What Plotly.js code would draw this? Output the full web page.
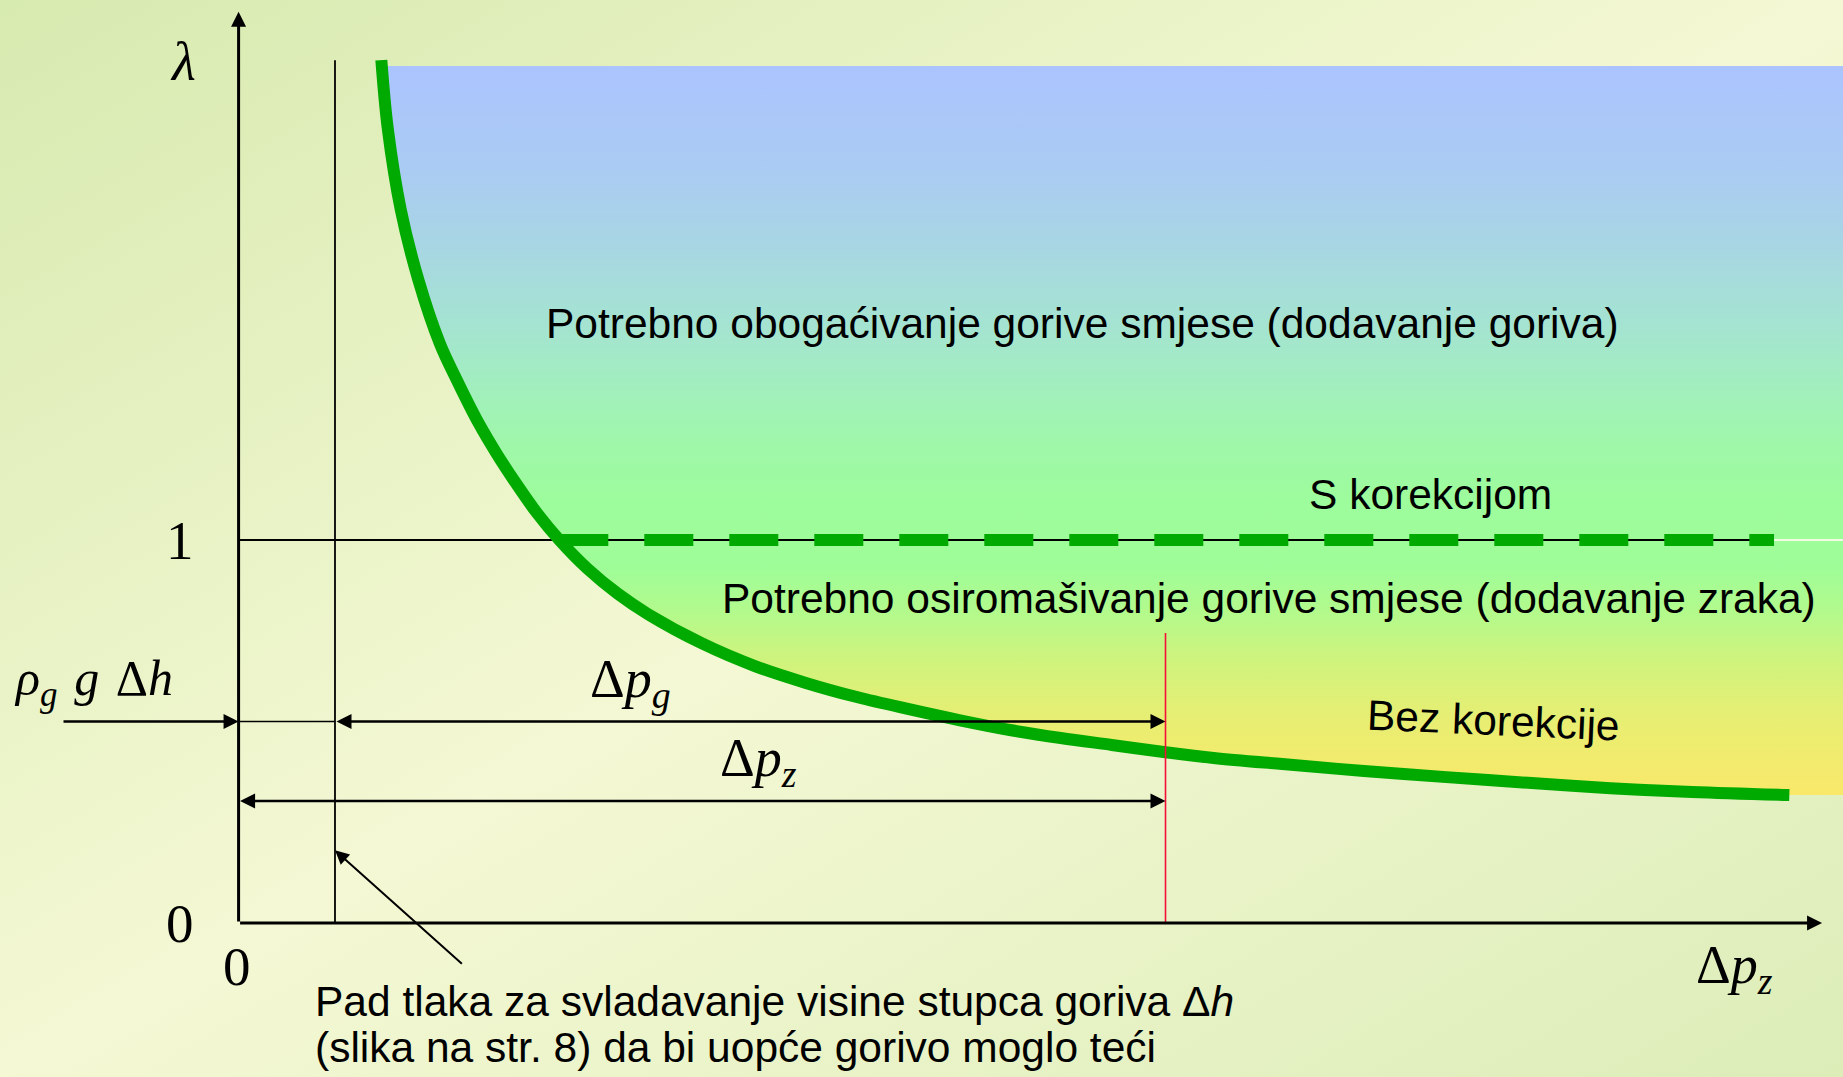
<!DOCTYPE html>
<html>
<head>
<meta charset="utf-8">
<script src="https://cdn.plot.ly/plotly-3.0.1.min.js"></script>
<style>
  html, body { margin: 0; padding: 0; width: 1843px; height: 1077px; overflow: hidden;
    background: linear-gradient(to bottom right, #d7eaaf 0%, #f4f8d4 50%, #dcedb8 100%); }
  #chart { width: 1843px; height: 1077px; }
</style>
</head>
<body>
<div id="chart"></div>
<script>
// Δp_z along the uncorrected mixture curve ("Bez korekcije") and the matching λ
const dpz = [1.54, 1.61, 1.75, 1.94, 2.17, 2.36, 2.59, 2.78, 2.99, 3.22, 3.46, 3.76, 4.09, 4.42,
             5.00, 5.57, 6.12, 6.67, 7.22, 7.77, 8.32, 8.87, 9.42, 10.00, 10.52, 11.26, 12.14,
             13.03, 13.91, 14.80, 15.68, 16.73];
const lambdaBez = [2.253, 2.073, 1.862, 1.679, 1.514, 1.415, 1.305, 1.227, 1.149, 1.070, 1.000,
                   0.926, 0.860, 0.806, 0.730, 0.671, 0.627, 0.590, 0.559, 0.530, 0.504, 0.483,
                   0.465, 0.446, 0.431, 0.415, 0.397, 0.381, 0.366, 0.352, 0.342, 0.334];

// corrected mixture: λ held at 1 ("S korekcijom")
const lambdaKor = 1;
const dpzKor = [3.46, 16.565];

// pressure drop for the fuel column ρ_g g Δh and the marked working point Δp_z
const dpHidro = 1.04;
const dpzMark = 10;

// axis tick labels
const yTicks = [{ v: 0, t: '0' }, { v: 1, t: '1' }];
const xTicks = [{ v: 0, t: '0' }];

// region texts
const txtBogatiti = 'Potrebno obogaćivanje gorive smjese (dodavanje goriva)';
const txtSiromasiti = 'Potrebno osiromašivanje gorive smjese (dodavanje zraka)';
const txtKor = 'S korekcijom';
const txtBez = 'Bez korekcije';
const txtPad1 = 'Pad tlaka za svladavanje visine stupca goriva Δ<i>h</i>';
const txtPad2 = '(slika na str. 8) da bi uopće gorivo moglo teći';

// ---- view ----
const xRange = [-2.574, 17.309];
const yRange = [-0.402, 2.410];
const xAxisEnd = 17.083, yAxisEnd = 2.379;
const fillTop = 2.238, xEdge = 17.5;
const fillBottom = lambdaBez[lambdaBez.length - 1];

const SANS = 'Liberation Sans, Arial, sans-serif';
const SERIF = 'Liberation Serif, Times New Roman, serif';
const GREEN = '#00aa00';
const SP = '\u2004';

// vertical colour stops of the shaded region, keyed by λ
const fillStops = [
  [0.339, '#f9e86a'], [0.496, '#eced70'], [0.601, '#def077'], [0.705, '#ccf47e'],
  [0.799, '#b6f98a'], [0.929, '#9ffd98'], [1.104, '#9dfc9c'], [1.253, '#9ff7a9'],
  [1.366, '#a1f1b9'], [1.540, '#a4e5cf'], [1.802, '#a8d4e6'], [1.974, '#aacbf3'],
  [2.238, '#abc4fe']
];
const fillScale = fillStops.map(s => [(s[0] - fillStops[0][0]) / (fillTop - fillStops[0][0]), s[1]]);

const traces = [
  { // shaded region right of the curve
    x: dpz.concat([xEdge, xEdge, dpz[0]]),
    y: lambdaBez.concat([fillBottom, fillTop, fillTop]),
    mode: 'none', fill: 'toself', hoverinfo: 'skip',
    fillcolor: '#a0f0b0',
    fillgradient: { type: 'vertical', colorscale: fillScale, start: fillBottom, stop: fillTop }
  },
  { // λ = 1 reference line
    x: [0, dpzKor[1]], y: [lambdaKor, lambdaKor], mode: 'lines', hoverinfo: 'skip',
    line: { color: '#000', width: 2 }
  },
  { // faint continuation of the reference line
    x: [dpzKor[1], xEdge], y: [lambdaKor, lambdaKor], mode: 'lines', hoverinfo: 'skip',
    line: { color: 'rgba(250,252,235,0.9)', width: 2 }
  },
  { // without correction
    x: dpz, y: lambdaBez, mode: 'lines', hoverinfo: 'skip',
    line: { color: GREEN, width: 12, shape: 'spline', smoothing: 1 }
  },
  { // with correction
    x: dpzKor, y: [lambdaKor, lambdaKor], mode: 'lines', hoverinfo: 'skip',
    line: { color: GREEN, width: 12, dash: '49px,36px' }
  }
];

const shapes = [
  { type: 'line', x0: dpHidro, x1: dpHidro, y0: 0, y1: 2.253, line: { color: '#000', width: 1.8 } },
  { type: 'line', x0: 0, x1: dpHidro, y0: 0.526, y1: 0.526, line: { color: '#000', width: 1.5 } },
  { type: 'line', x0: dpzMark, x1: dpzMark, y0: 0, y1: 0.757, line: { color: '#f5103a', width: 1.6 } }
];

function arrow(x, y, ax, ay, o) {
  return Object.assign({
    x: x, y: y, ax: ax, ay: ay, xref: 'x', yref: 'y', axref: 'x', ayref: 'y',
    text: '', showarrow: true, arrowhead: 2, arrowsize: 1, arrowwidth: 3,
    arrowcolor: '#000', standoff: 0, startstandoff: 0
  }, o || {});
}
function label(text, x, y, size, family, o) {
  return Object.assign({
    x: x, y: y, xref: 'x', yref: 'y', text: text, showarrow: false,
    xanchor: 'center', yanchor: 'middle',
    font: { family: family, size: size, color: '#000' }
  }, o || {});
}

const annotations = [
  // axes
  arrow(0, yAxisEnd, 0, 0),
  arrow(xAxisEnd, 0, 0, 0),
  // ρ_g g Δh, Δp_g, Δp_z
  arrow(0, 0.526, -1.905, 0.526, { arrowwidth: 2.5, arrowsize: 1.2 }),
  arrow(dpzMark, 0.526, dpHidro, 0.526, { arrowwidth: 2.5, arrowsize: 1.2, arrowside: 'end+start', startarrowhead: 2, startarrowsize: 1.2 }),
  arrow(dpzMark, 0.3185, 0, 0.3185, { arrowwidth: 2.5, arrowsize: 1.2, arrowside: 'end+start', startarrowhead: 2, startarrowsize: 1.2 }),
  // pointer to the Δh line
  arrow(dpHidro, 0.19, 2.425, -0.11, { arrowwidth: 2, arrowsize: 1.4 }),

  // axis titles and ticks
  label('<i>λ</i>', -0.599, 2.25, 55, SERIF),
  label('Δ<i>p</i><sub><i>z</i></sub>', 16.143, -0.12, 54, SERIF),
  ...yTicks.map(t => label(t.t, -0.627, t.v, 55, SERIF)),
  ...xTicks.map(t => label(t.t, t.v - 0.012, -0.1125, 55, SERIF)),

  // dimension labels
  label('<i>ρ</i><sub><i>g</i></sub>' + SP + '<i>g</i>' + SP + 'Δ<i>h</i>', -1.56, 0.63, 50, SERIF),
  label('Δ<i>p</i><sub><i>g</i></sub>', 4.223, 0.628, 54, SERIF),
  label('Δ<i>p</i><sub><i>z</i></sub>', 5.614, 0.4226, 54, SERIF),

  // region texts
  label(txtBogatiti, 9.10, 1.5666, 42.5, SANS),
  label(txtKor, 12.855, 1.120, 42.5, SANS),
  label(txtSiromasiti, 11.12, 0.8486, 42.5, SANS),
  label(txtBez, 13.539, 0.530, 42.5, SANS, { textangle: 2.5 }),
  label(txtPad1, 0.80, -0.2037, 42.5, SANS, { xanchor: 'left' }),
  label(txtPad2, 0.80, -0.3238, 42.5, SANS, { xanchor: 'left' })
];

const layout = {
  width: 1843, height: 1077,
  margin: { l: 0, r: 0, t: 0, b: 0, pad: 0 },
  paper_bgcolor: 'rgba(0,0,0,0)', plot_bgcolor: 'rgba(0,0,0,0)',
  showlegend: false,
  xaxis: { range: xRange, visible: false, fixedrange: true },
  yaxis: { range: yRange, visible: false, fixedrange: true },
  shapes: shapes,
  annotations: annotations
};

Plotly.newPlot('chart', traces, layout, { staticPlot: true, displayModeBar: false });
</script>
</body>
</html>
